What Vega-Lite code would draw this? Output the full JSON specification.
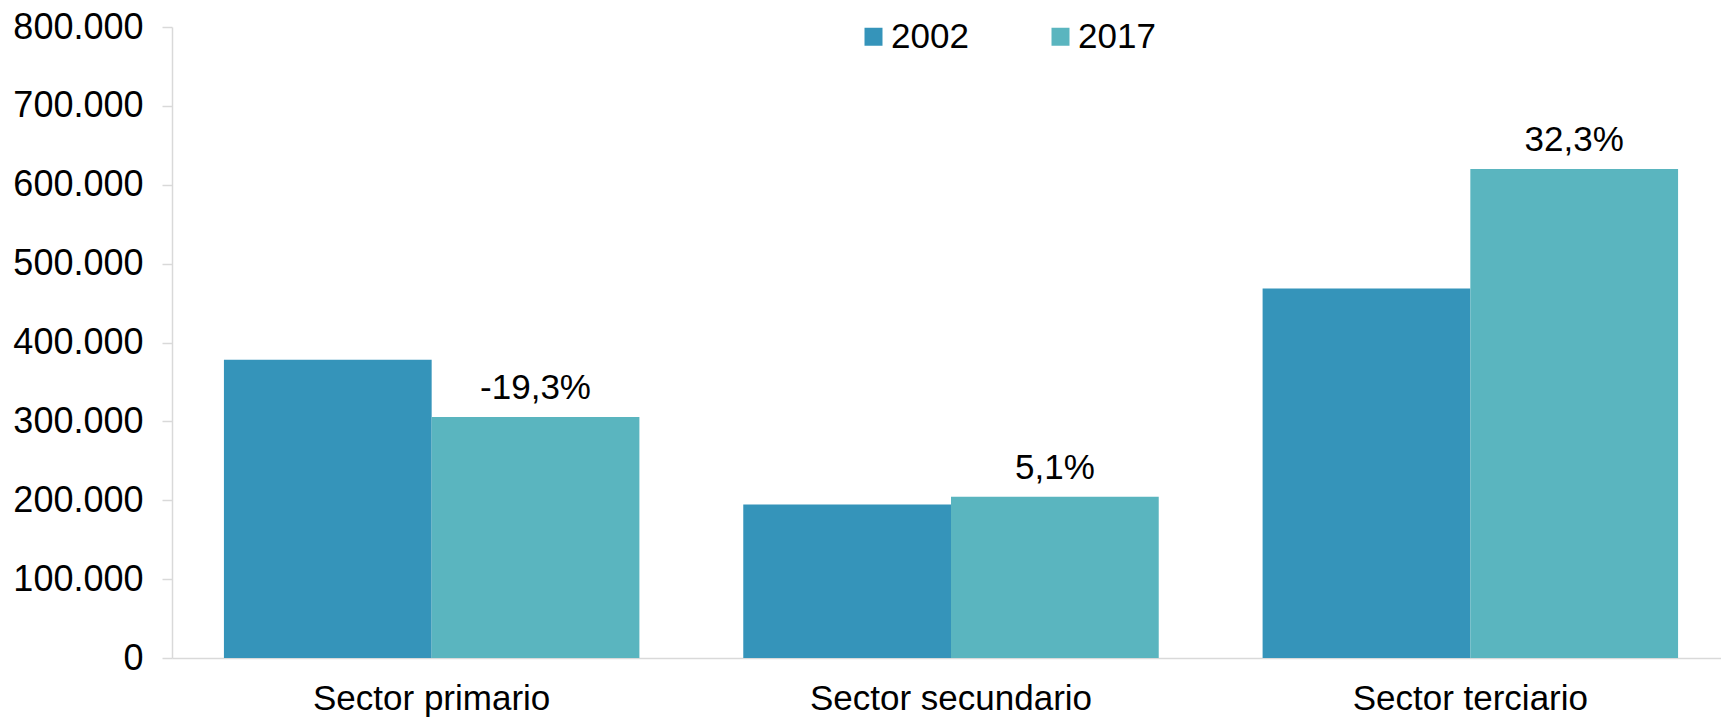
{
  "$schema": "https://vega.github.io/schema/vega-lite/v6.json",
  "autosize": {"type": "none"},
  "width": 1558,
  "height": 631,
  "padding": {"left": 172, "top": 27, "right": 0, "bottom": 60},
  "background": "white",
  "config": {
    "view": {"stroke": null},
    "font": "Liberation Sans",
    "axis": {"labelFont": "Liberation Sans", "labelColor": "#000000", "labelFontSize": 35, "labelLimit": 0, "grid": false, "domainColor": "#d9d9d9", "tickColor": "#d9d9d9", "domainWidth": 1.5, "tickWidth": 1.5}
  },
  "data": {
    "values": [
      {"sector": "Sector primario", "year": "2002", "value": 378000, "change": ""},
      {"sector": "Sector primario", "year": "2017", "value": 305500, "change": "-19,3%"},
      {"sector": "Sector secundario", "year": "2002", "value": 194500, "change": ""},
      {"sector": "Sector secundario", "year": "2017", "value": 204500, "change": "5,1%"},
      {"sector": "Sector terciario", "year": "2002", "value": 468500, "change": ""},
      {"sector": "Sector terciario", "year": "2017", "value": 620000, "change": "32,3%"}
    ]
  },
  "encoding": {
    "x": {
      "field": "sector", "type": "nominal", "sort": null,
      "scale": {"paddingInner": 0.2, "paddingOuter": 0.1},
      "axis": {"title": null, "labelAngle": 0, "ticks": false, "tickSize": 0, "labelPadding": 23, "labelBaseline": "top", "labelFontSize": 35}
    },
    "xOffset": {"field": "year", "type": "nominal", "scale": {"paddingInner": 0, "paddingOuter": 0}},
    "y": {
      "field": "value", "type": "quantitative",
      "scale": {"domain": [0, 800000], "nice": false},
      "axis": {"title": null, "values": [0, 100000, 200000, 300000, 400000, 500000, 600000, 700000, 800000], "tickSize": 10, "labelPadding": 19, "labelFontSize": 36, "labelExpr": "replace(format(datum.value, ','), ',', '.')"}
    }
  },
  "layer": [
    {
      "mark": {"type": "bar"},
      "encoding": {
        "color": {
          "field": "year", "type": "nominal",
          "scale": {"domain": ["2002", "2017"], "range": ["#3594ba", "#5ab5bf"]},
          "legend": {
            "title": null, "orient": "none", "direction": "horizontal",
            "legendX": 684, "legendY": -8,
            "symbolType": "square", "symbolSize": 324, "symbolStrokeWidth": 0,
            "labelFontSize": 35, "labelFont": "Liberation Sans", "labelColor": "#000000",
            "labelOffset": 0, "columnPadding": 74
          }
        }
      }
    },
    {
      "mark": {"type": "text", "baseline": "alphabetic", "dy": -18, "fontSize": 35, "font": "Liberation Sans", "color": "#000000"},
      "encoding": {"text": {"field": "change"}}
    }
  ]
}
